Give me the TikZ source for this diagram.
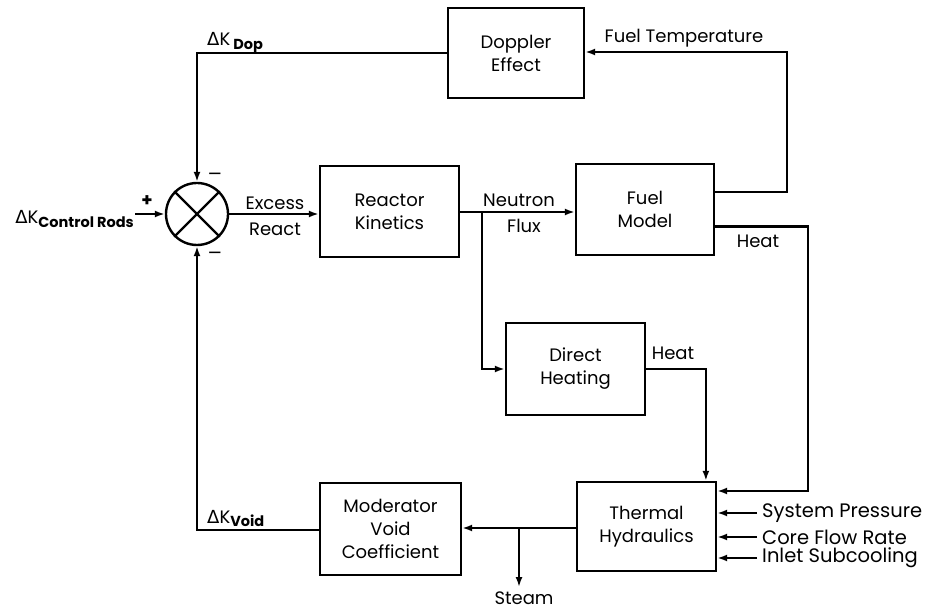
\documentclass[tikz,border=0pt]{standalone}
\usepackage{fontspec}
\setmainfont{Poppins}
\newfontfamily\djv{DejaVu Sans}
\usetikzlibrary{arrows.meta,calc}
\newcommand{\subtx}[1]{\raisebox{-3.5pt}{\fontsize{14.5}{15}\selectfont\bfseries #1}}
\begin{document}
\begin{tikzpicture}[x=1pt,y=-1pt,
  line width=2.4pt,
  every node/.style={font=\fontsize{18}{23}\selectfont, inner sep=0pt, align=center},
  blk/.style={draw, minimum width=#1, line width=2.4pt},
  blk/.default=139pt,
  arr/.style={-{Latex[length=10pt,width=7pt]}},
  lbl/.style={font=\fontsize{18}{23}\selectfont},
  inlbl/.style={font=\fontsize{19.5}{23}\selectfont}]
\useasboundingbox (0,0) rectangle (934,609);
% blocks
\node[blk=136pt, minimum height=90pt] (dop) at (516,53) {Doppler\\Effect};
\node[blk=139pt, minimum height=91pt] (rk) at (389.5,211.5) {Reactor\\Kinetics};
\node[blk=138pt, minimum height=91pt] (fm) at (645,209.5) {Fuel\\Model};
\node[blk=139pt, minimum height=92pt] (dh) at (575.5,369) {Direct\\Heating};
\node[blk=139pt, minimum height=89pt] (th) at (646.5,526.5) {Thermal\\Hydraulics};
\node[blk=141pt, minimum height=92pt] (mvc) at (390.5,529) {Moderator\\Void\\Coefficient};
% summing junction
\node[draw, circle, minimum size=62pt] (sum) at (197,214) {};
\draw (sum.north east) -- (sum.south west);
\draw (sum.north west) -- (sum.south east);
% Doppler feedback
\draw[arr] (dop.west) -| (sum.north);
\node[lbl, anchor=base west] (ldop) at (206,46) {{\djv Δ}K\,\subtx{Dop}};
% control rods
\coordinate (cr) at (135,214);
\draw[arr] (cr) -- (sum.west);
\node[lbl, anchor=base east] (lcr) at (135,224) {{\djv Δ}K\subtx{Control Rods}};
\node[lbl] (plus) at (147,201) {\bfseries +};
\node[lbl] (m1) at (215,176) {\djv −};
\node[lbl] (m2) at (215,255) {\djv −};
% excess reactivity
\draw[arr] (sum.east) -- (sum.east -| rk.west);
\node[lbl] (lex) at (275,203) {Excess};
\node[lbl] (lre) at (275,229) {React};
% neutron flux
\draw[arr] (rk.east |- 0,212) -- (fm.west |- 0,212);
\coordinate (br) at (482,212);
\node[lbl] (lne) at (519,200) {Neutron};
\node[lbl] (lfl) at (524,226) {Flux};
\draw[arr] (br) |- (dh.west);
% fuel temperature
\coordinate (ft1) at ($(fm.north east)!0.31!(fm.south east)$);
\coordinate (ft2) at (787,52);
\draw[arr] (ft1) -| (ft2) -- (ft2 -| dop.east);
\node[lbl] (lft) at (684,38) {Fuel Temperature};
% fuel heat
\coordinate (fh1) at ($(fm.north east)!0.68!(fm.south east)$);
\coordinate (fh2) at (808,491);
\draw[arr] (fh1) -| (fh2) -- (fh2 -| th.east);
\node[lbl] (lh1) at (758,241) {Heat};
% direct heat
\coordinate (dh2) at ($(th.north west)!0.92!(th.north east)$);
\draw[arr] (dh.east) -| (dh2);
\node[lbl] (lh2) at (673,353) {Heat};
% inputs
\foreach \yy/\tt/\nm in {513/System Pressure/sp, 537/Core Flow Rate/cf, 558/Inlet Subcooling/is} {
  \coordinate (\nm) at (757,\yy);
  \draw[arr] (\nm) -- (\nm -| th.east);
  \node[inlbl, anchor=west] (l\nm) at (761,\yy) {\tt};
}
% output to moderator
\draw[arr] (th.west |- 0,528) -- (mvc.east |- 0,528);
\coordinate (st) at (519,528);
\draw[arr] (st) -- (519,587);
\node[lbl] (lst) at (524,598) {Steam};
% void feedback
\draw[arr] (mvc.west |- 0,530) -| (sum.south);
\node[lbl, anchor=base west] (lvd) at (206,523) {{\djv Δ}K\subtx{Void}};
\end{tikzpicture}
\end{document}
